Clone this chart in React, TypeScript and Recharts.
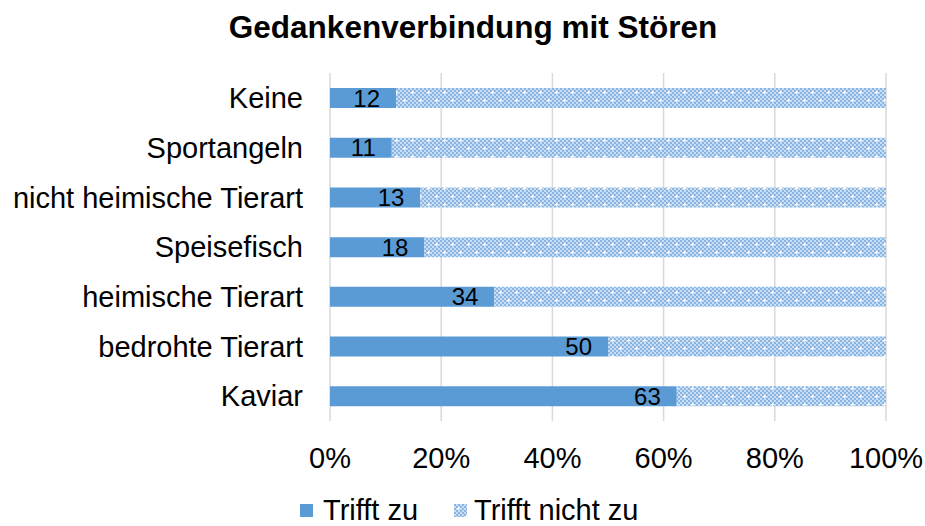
import React from 'react';
import { BarChart, Bar, XAxis, YAxis, CartesianGrid, LabelList, Legend } from 'recharts';

const categories = ['Keine', 'Sportangeln', 'nicht heimische Tierart', 'Speisefisch', 'heimische Tierart', 'bedrohte Tierart', 'Kaviar'];
const triffZu = [12, 11, 13, 18, 34, 50, 63];
const triffNicht = [89, 88, 67, 88, 81, 50, 38];
const xTicks = [0, 0.2, 0.4, 0.6, 0.8, 1];
const seriesNames = ['Trifft zu', 'Trifft nicht zu'];
const title = 'Gedankenverbindung mit Stören';

const data = categories.map((name, i) => ({ name, zu: triffZu[i], nicht: triffNicht[i] }));

const FONT = '"Liberation Sans", Arial, sans-serif';
const BLUE = '#5b9bd5';
const CHECK_DARK = '#8ab6e4';
const CHECK_LIGHT = '#c9def4';

const LegendContent = () => (
  <div style={{ display: 'flex', alignItems: 'center', fontFamily: FONT, fontSize: 29, lineHeight: '30px', height: 30, color: '#000', whiteSpace: 'nowrap' }}>
    <span style={{ display: 'inline-block', width: 13, height: 13, background: BLUE, marginRight: 10 }} />
    <span style={{ marginRight: 36 }}>{seriesNames[0]}</span>
    <svg width={13} height={13} style={{ marginRight: 7 }}>
      <rect width={13} height={13} fill="url(#dotPattern)" />
    </svg>
    <span>{seriesNames[1]}</span>
  </div>
);

export default function App() {
  const cells = [];
  for (let r = 0; r < 8; r++) {
    for (let c = 0; c < 8; c++) {
      if ((r + c) % 2 === 0) {
        cells.push(<rect key={`${r}-${c}`} x={c * 2} y={r * 2} width={2} height={2} fill={CHECK_DARK} />);
      }
    }
  }
  return (
    <div style={{ position: 'absolute', left: 0, top: 0, width: 925, height: 526, background: '#fff' }}>
      <svg width={0} height={0} style={{ position: 'absolute' }}>
        <defs>
          <pattern id="dotPattern" x={0} y={0} width={16} height={16} patternUnits="userSpaceOnUse">
            <rect width={16} height={16} fill={CHECK_LIGHT} />
            {cells}
            <rect x={3} y={4} width={3} height={1} fill="#fff" />
            <rect x={4} y={3} width={1} height={3} fill="#fff" />
            <rect x={11} y={12} width={3} height={1} fill="#fff" />
            <rect x={12} y={11} width={1} height={3} fill="#fff" />
          </pattern>
        </defs>
      </svg>
      <div style={{ position: 'absolute', left: 0, top: 9, width: 946, textAlign: 'center', fontFamily: FONT, fontWeight: 'bold', fontSize: 31.5, lineHeight: '36px', color: '#000' }}>
        {title}
      </div>
      <BarChart
        width={925}
        height={526}
        data={data}
        layout="vertical"
        stackOffset="expand"
        margin={{ top: 73, right: 39, bottom: 75, left: 0 }}
      >
        <CartesianGrid horizontal={false} stroke="#d9d9d9" strokeWidth={1.5} />
        <XAxis
          type="number"
          domain={[0, 1]}
          ticks={xTicks}
          tickFormatter={(v: number) => `${Math.round(v * 100)}%`}
          axisLine={false}
          tickLine={false}
          tickMargin={20}
          tick={{ fontSize: 29, fill: '#000', fontFamily: FONT }}
          height={30}
        />
        <YAxis
          type="category"
          dataKey="name"
          width={330}
          axisLine={false}
          tickLine={false}
          tickMargin={21}
          interval={0}
          tick={{ fontSize: 29, fill: '#000', fontFamily: FONT }}
        />
        <Bar dataKey="zu" name={seriesNames[0]} stackId="a" fill={BLUE} barSize={20} isAnimationActive={false}>
          <LabelList dataKey="zu" position="insideRight" offset={16} style={{ fontSize: 24, fill: '#000', fontFamily: FONT }} />
        </Bar>
        <Bar dataKey="nicht" name={seriesNames[1]} stackId="a" fill="url(#dotPattern)" barSize={20} isAnimationActive={false} />
        <Legend
          verticalAlign="middle"
          align="center"
          layout="horizontal"
          content={<LegendContent />}
          wrapperStyle={{ top: 495, left: 300, width: 400 }}
        />
      </BarChart>
    </div>
  );
}
